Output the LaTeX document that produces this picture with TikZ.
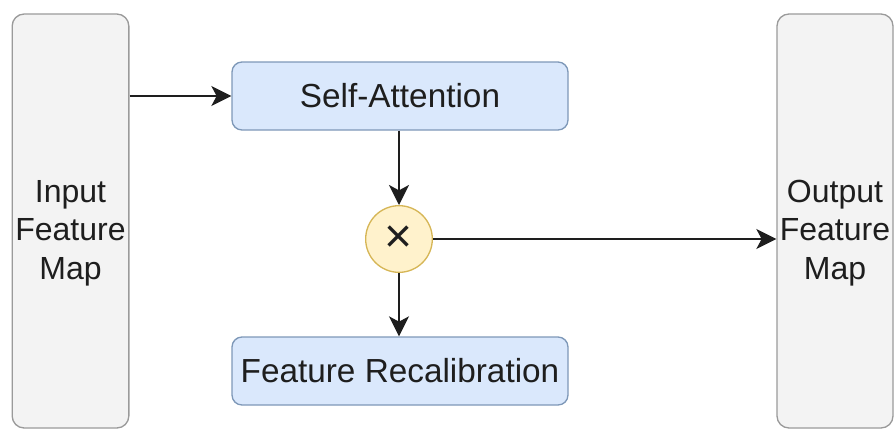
\documentclass[tikz,border=0pt]{standalone}
\usepackage{fontspec}
\setmainfont{Liberation Sans}
\usepackage{tikz}
\usetikzlibrary{arrows.meta}

\definecolor{mapfill}{HTML}{F3F3F3}
\definecolor{mapline}{HTML}{9A9A9A}
\definecolor{blkfill}{HTML}{DAE8FC}
\definecolor{blkline}{HTML}{7E98B8}
\definecolor{mulfill}{HTML}{FFF2CC}
\definecolor{mulline}{HTML}{D6B656}
\definecolor{inkgray}{HTML}{1E1E1E}

\tikzset{
    mapbox/.style={draw=mapline, fill=mapfill, line width=1pt, rounded corners=9pt,
        minimum width=87.5pt, minimum height=310.5pt, inner sep=0pt},
    blkbox/.style={draw=blkline, fill=blkfill, line width=1pt, rounded corners=7.5pt,
        minimum width=252pt, minimum height=51pt, inner sep=0pt, text=inkgray,
        font=\fontsize{25}{29}\selectfont},
    maptext/.style={align=center, inner sep=0pt, text=inkgray,
        font=\fontsize{24}{29}\selectfont},
    mulnode/.style={circle, draw=mulline, fill=mulfill, line width=1pt,
        minimum size=50pt, inner sep=0pt, text=inkgray, font=\fontsize{36}{36}\selectfont},
    flow/.style={line width=1.5pt, draw=inkgray,
        -{Stealth[length=15pt, width=15pt, inset=4pt]}}
}

\begin{document}
\begin{tikzpicture}[x=0.75pt,y=0.75pt,yscale=-1,xscale=1]
    \useasboundingbox (0,0) rectangle (894,430);

    %Rounded Rect [input map]
    \node [mapbox] (inmap) at (70.5,221) {};
    %Rounded Rect [output map]
    \node [mapbox, minimum width=87pt] (outmap) at (835,221) {};
    %Rounded Rect [self attention]
    \node [blkbox] (selfatt) at (400,96) {Self-Attention};
    %Rounded Rect [recalibration]
    \node [blkbox] (recal) at (400,371) {Feature Recalibration};
    %Circle [multiply]
    \node [mulnode] (mul) at (399,239) {×};

    % Text Node
    \node [maptext] (intext) at (70.5,233) {Input\\Feature\\Map};
    % Text Node
    \node [maptext] (outtext) at (835,233) {Output\\Feature\\Map};

    %Straight Lines [input to attention]
    \draw [flow] (inmap.east |- selfatt.west) -- (selfatt.west) ;
    %Straight Lines [attention to multiply]
    \draw [flow] (selfatt.south -| mul.north) -- (mul.north) ;
    %Straight Lines [multiply to recalibration]
    \draw [flow] (mul.south) -- (mul.south |- recal.north) ;
    %Straight Lines [multiply to output]
    \draw [flow] (mul.east) -- (mul.east -| outmap.west) ;

\end{tikzpicture}
\end{document}
